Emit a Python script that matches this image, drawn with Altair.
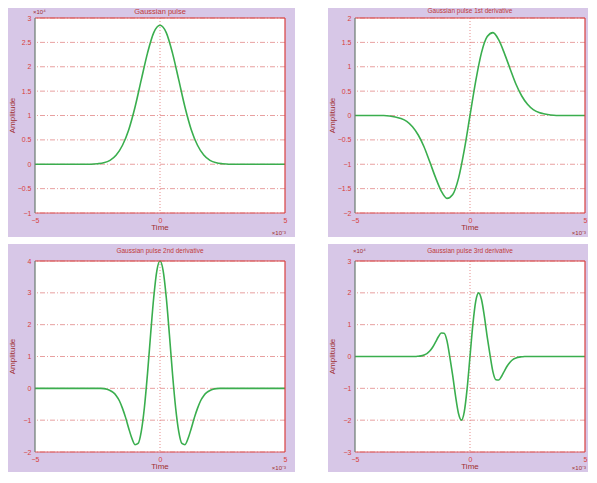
import altair as alt
import pandas as pd

# ---------------- data ----------------
x_ticks = [-5, 0, 5]

tl_title = "Gaussian pulse"
tl_yticks = [-1, -0.5, 0, 0.5, 1, 1.5, 2, 2.5, 3]
tl_t = [-5, -3, -2.75, -2.5, -2.25, -2, -1.75, -1.5, -1.25, -1, -0.75, -0.5, -0.25, 0,
        0.25, 0.5, 0.75, 1, 1.25, 1.5, 1.75, 2, 2.25, 2.5, 2.75, 3, 5]
tl_v = [0, 0, 0, 0.01, 0.03, 0.08, 0.19, 0.39, 0.71, 1.17, 1.73, 2.28, 2.70, 2.85,
        2.70, 2.28, 1.73, 1.17, 0.71, 0.39, 0.19, 0.08, 0.03, 0.01, 0, 0, 0]

tr_title = "Gaussian pulse 1st derivative"
tr_yticks = [-2, -1.5, -1, -0.5, 0, 0.5, 1, 1.5, 2]
tr_t = [-5, -3.75, -3.5, -3.25, -3, -2.75, -2.5, -2.25, -2, -1.75, -1.5, -1.25, -1, -0.75, -0.5, -0.25, 0,
        0.25, 0.5, 0.75, 1, 1.25, 1.5, 1.75, 2, 2.25, 2.5, 2.75, 3, 3.25, 3.5, 3.75, 5]
tr_v = [0, 0, -0.01, -0.03, -0.06, -0.12, -0.23, -0.40, -0.64, -0.95, -1.27, -1.55, -1.70, -1.62, -1.29, -0.71, 0,
        0.71, 1.29, 1.62, 1.70, 1.55, 1.27, 0.95, 0.64, 0.40, 0.23, 0.12, 0.06, 0.03, 0.01, 0, 0]

bl_title = "Gaussian pulse 2nd derivative"
bl_yticks = [-2, -1, 0, 1, 2, 3, 4]
bl_t = [-5, -2.5, -2.375, -2.25, -2.125, -2, -1.875, -1.75, -1.625, -1.5, -1.375, -1.25, -1.125, -1,
        -0.875, -0.75, -0.625, -0.5, -0.375, -0.25, -0.125, 0, 0.125, 0.25, 0.375, 0.5, 0.625, 0.75,
        0.875, 1, 1.125, 1.25, 1.375, 1.5, 1.625, 1.75, 1.875, 2, 2.125, 2.25, 2.375, 2.5, 5]
bl_v = [0, 0, 0, -0.01, -0.03, -0.07, -0.13, -0.23, -0.39, -0.63, -0.92, -1.26, -1.57, -1.77,
        -1.73, -1.36, -0.61, 0.46, 1.70, 2.86, 3.70, 4.0, 3.70, 2.86, 1.70, 0.46, -0.61, -1.36,
        -1.73, -1.77, -1.57, -1.26, -0.92, -0.63, -0.39, -0.23, -0.13, -0.07, -0.03, -0.01, 0, 0, 0]

br_title = "Gaussian pulse 3rd derivative"
br_yticks = [-3, -2, -1, 0, 1, 2, 3]
br_t = bl_t
br_v = [0, 0, 0, 0.01, 0.02, 0.05, 0.09, 0.17, 0.29, 0.45, 0.62, 0.74, 0.73, 0.49,
        -0.03, -0.61, -1.26, -1.79, -2.00, -1.74, -1.01, 0, 1.01, 1.74, 2.00, 1.79, 1.26, 0.61,
        0.03, -0.49, -0.73, -0.74, -0.62, -0.45, -0.29, -0.17, -0.09, -0.05, -0.02, -0.01, 0, 0, 0]

# ---------------- styling ----------------
LAV = "#d7c7e7"
RED = "#d84040"
GREEN = "#3aae4e"
FONT = "Liberation Sans"


def panel(t, v, yticks, title, W, H, top_pad, bot_pad, right_pad, title_size, title_y, y_exp=False):
    one = pd.DataFrame({"a": [0]})
    curve = pd.DataFrame({"t": t, "v": v})
    grid = pd.DataFrame({"g": yticks})
    xs = alt.Scale(domain=[-5, 5], nice=False, zero=False)
    ys = alt.Scale(domain=[min(yticks), max(yticks)], nice=False, zero=False)
    yaxis = alt.Axis(values=yticks, grid=False, ticks=False, domain=False, format="~g",
                     labelFontSize=7, labelColor=RED, labelPadding=4, title=None,
                     zindex=1, labelFlush=False, labelOverlap=False, labelFont=FONT)
    xaxis = alt.Axis(values=x_ticks, grid=False, ticks=False, domain=False, format="~g",
                     labelFontSize=7, labelColor=RED, labelPadding=3, title=None,
                     zindex=1, labelFlush=False, labelFont=FONT)

    bg = alt.Chart(one).mark_rect(color=LAV).encode(
        x=alt.value(-27), x2=alt.value(W + right_pad), y=alt.value(-top_pad), y2=alt.value(H + bot_pad))
    plotbg = alt.Chart(one).mark_rect(color="white").encode(
        x=alt.value(0), x2=alt.value(W), y=alt.value(0), y2=alt.value(H))
    hgrid = alt.Chart(grid).mark_rule(color="#e08080", strokeDash=[5, 2, 1, 2], strokeWidth=1, opacity=0.75).encode(
        y=alt.Y("g:Q", scale=ys, axis=yaxis))
    vgrid = alt.Chart(one).mark_rule(color="#e07070", strokeDash=[1, 2], strokeWidth=1, opacity=0.8).encode(
        x=alt.datum(0, scale=xs, axis=xaxis))
    line = alt.Chart(curve).mark_line(color=GREEN, strokeWidth=1.6, interpolate="monotone").encode(
        x=alt.X("t:Q", scale=xs, axis=xaxis),
        y=alt.Y("v:Q", scale=ys, axis=yaxis))
    top_b = alt.Chart(one).mark_rule(color=RED, strokeWidth=1.2).encode(
        x=alt.value(0), x2=alt.value(W), y=alt.value(0))
    right_b = alt.Chart(one).mark_rule(color=RED, strokeWidth=1.2).encode(
        x=alt.value(W), y=alt.value(0), y2=alt.value(H))
    left_b = alt.Chart(one).mark_rule(color="#6a7a70", strokeWidth=1.2).encode(
        x=alt.value(0), y=alt.value(0), y2=alt.value(H))
    bot_b = alt.Chart(one).mark_rule(color=RED, strokeWidth=1.2, opacity=0.8).encode(
        x=alt.value(0), x2=alt.value(W), y=alt.value(H))
    ttl = alt.Chart(one).mark_text(text=title, color="#c03a3a", fontSize=title_size, font=FONT,
                                   baseline="middle").encode(x=alt.value(W / 2), y=alt.value(title_y))
    ylab = alt.Chart(one).mark_text(text="Amplitude", color="#a03030", fontSize=8, font=FONT, angle=270,
                                    baseline="middle").encode(x=alt.value(-22), y=alt.value(H / 2))
    xlab = alt.Chart(one).mark_text(text="Time", color="#a03030", fontSize=8, font=FONT,
                                    baseline="middle").encode(x=alt.value(W / 2), y=alt.value(H + 15))
    xexp = alt.Chart(one).mark_text(text="×10⁻³", color="#a03030", fontSize=6, font=FONT,
                                    baseline="middle", align="right").encode(x=alt.value(W + 1), y=alt.value(H + bot_pad - 4))
    layers = [bg, plotbg, hgrid, vgrid, line, top_b, right_b, left_b, bot_b, ttl, ylab, xlab, xexp]
    if y_exp:
        yexp = alt.Chart(one).mark_text(text="×10⁴", color="#a03030", fontSize=6, font=FONT,
                                        baseline="middle", align="left").encode(x=alt.value(-2), y=alt.value(title_y))
        layers.append(yexp)
    return alt.layer(*layers).properties(width=W, height=H)


WL, WR = 250, 230
tl = panel(tl_t, tl_v, tl_yticks, tl_title, WL, 195, 10, 24, 10, 7.5, -6, y_exp=True)
tr = panel(tr_t, tr_v, tr_yticks, tr_title, WR, 195, 10, 24, 3, 6.5, -7)
bl = panel(bl_t, bl_v, bl_yticks, bl_title, WL, 191, 17, 20, 10, 6.5, -10)
br = panel(br_t, br_v, br_yticks, br_title, WR, 191, 17, 20, 3, 6.5, -10, y_exp=True)

chart = alt.vconcat(
    alt.hconcat(tl, tr, spacing=33),
    alt.hconcat(bl, br, spacing=33),
    spacing=7,
).properties(padding=0, background="white").configure_view(stroke=None)

chart.save("out.html", embed_options={"renderer": "svg", "actions": False})
